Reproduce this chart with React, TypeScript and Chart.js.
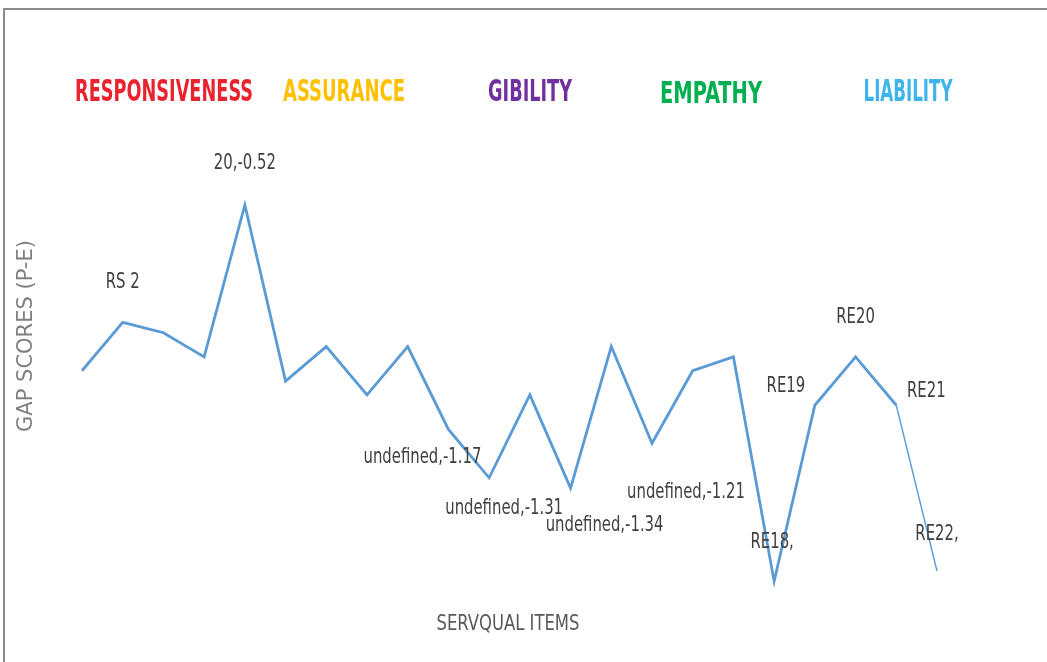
import React, { useEffect, useRef } from "react";
import { Chart, registerables } from "chart.js";

Chart.register(...registerables);

// ---- Data ----
const servqualItems = [
  "1", "2", "3", "4", "5", "6", "7", "8", "9", "10", "11",
  "12", "13", "14", "15", "16", "17", "18", "19", "20", "21", "22",
];
const gapScores = [
  -1.0, -0.86, -0.89, -0.96, -0.52, -1.03, -0.93, -1.07, -0.93, -1.17, -1.31,
  -1.07, -1.34, -0.93, -1.21, -1.0, -0.96, -1.61, -1.1, -0.96, -1.1, -1.58,
];
const pointLabels = [
  "", "RS 2", "", "", "20,-0.52", "", "", "", "", "undefined,-1.17", "undefined,-1.31",
  "", "undefined,-1.34", "", "undefined,-1.21", "", "", "RE18,", "RE19", "RE20", "RE21", "RE22,",
];
const dimensionNames = ["RESPONSIVENESS", "ASSURANCE", "GIBILITY", "EMPATHY", "LIABILITY"];
const dimensionColors = ["#E8232E", "#FFC000", "#7030A0", "#00B050", "#3DB5EB"];

// ---- Layout (not data) ----
const labelOffsets: Record<number, [number, number]> = {
  1: [0, -40],
  4: [0, -42],
  9: [-26, 28],
  10: [15, 30],
  12: [34, 37],
  14: [34, 49],
  17: [-2, -39],
  18: [-29, -19],
  19: [0, -40],
  20: [30, -14],
  21: [0, -37],
};
const dimensionPos: [number, number, number][] = [
  [164, 93, 178],
  [344, 93, 122],
  [530, 93, 84],
  [711, 95, 102],
  [908, 93, 89],
];

const overlayPlugin = {
  id: "overlay",
  afterDraw(chart: any) {
    const ctx = chart.ctx;
    ctx.save();
    // frame lines
    ctx.strokeStyle = "#8a8a8a";
    ctx.lineWidth = 2;
    ctx.beginPath();
    ctx.moveTo(1047, 9);
    ctx.lineTo(4, 9);
    ctx.lineTo(4, 662);
    ctx.stroke();

    // dimension labels
    ctx.textAlign = "center";
    ctx.textBaseline = "middle";
    ctx.font = "bold 31px 'Liberation Sans Narrow', 'DejaVu Sans Condensed', sans-serif";
    dimensionNames.forEach((name, i) => {
      const [x, y, w] = dimensionPos[i];
      ctx.fillStyle = dimensionColors[i];
      ctx.fillText(name, x, y, w);
    });

    // axis titles
    ctx.fillStyle = "#808080";
    ctx.font = "21px 'DejaVu Sans', sans-serif";
    ctx.save();
    ctx.translate(27, 336);
    ctx.rotate(-Math.PI / 2);
    ctx.fillText("GAP SCORES (P-E)", 0, 0, 208);
    ctx.restore();

    ctx.fillStyle = "#595959";
    ctx.font = "22px 'Liberation Sans Narrow', 'DejaVu Sans Condensed', sans-serif";
    ctx.fillText("SERVQUAL ITEMS", 508, 624, 143);

    // data labels
    const meta = chart.getDatasetMeta(0);
    ctx.fillStyle = "#404040";
    ctx.font = "22px 'Liberation Sans Narrow', 'DejaVu Sans Condensed', sans-serif";
    pointLabels.forEach((txt, i) => {
      if (!txt) return;
      const pt = meta.data[i];
      const off = labelOffsets[i] || [0, -30];
      const w = ctx.measureText(txt).width * 0.75;
      ctx.fillText(txt, pt.x + off[0], pt.y + off[1], w);
    });
    ctx.restore();
  },
};

export default function App() {
  const ref = useRef<HTMLCanvasElement>(null);
  useEffect(() => {
    if (!ref.current) return;
    const chart = new Chart(ref.current, {
      type: "line",
      data: {
        labels: servqualItems,
        datasets: [
          {
            data: gapScores,
            borderColor: "#5B9BD5",
            borderWidth: 2.8,
            pointRadius: 0,
            tension: 0,
            fill: false,
            segment: {
              borderWidth: (c: any) => (c.p1DataIndex === gapScores.length - 1 ? 1.4 : 2.8),
            },
          },
        ],
      },
      options: {
        responsive: false,
        animation: false,
        devicePixelRatio: 1,
        layout: { padding: { left: 82, right: 110, top: 129, bottom: 15 } },
        plugins: { legend: { display: false }, tooltip: { enabled: false }, title: { display: false } },
        scales: {
          x: { display: false, offset: false },
          y: { display: false, min: -1.8, max: -0.3 },
        },
      },
      plugins: [overlayPlugin],
    });
    return () => chart.destroy();
  }, []);
  return (
    <div style={{ position: "fixed", left: 0, top: 0, width: 1047, height: 662, background: "#fff" }}>
      <canvas ref={ref} width={1047} height={662} style={{ display: "block" }} />
    </div>
  );
}
